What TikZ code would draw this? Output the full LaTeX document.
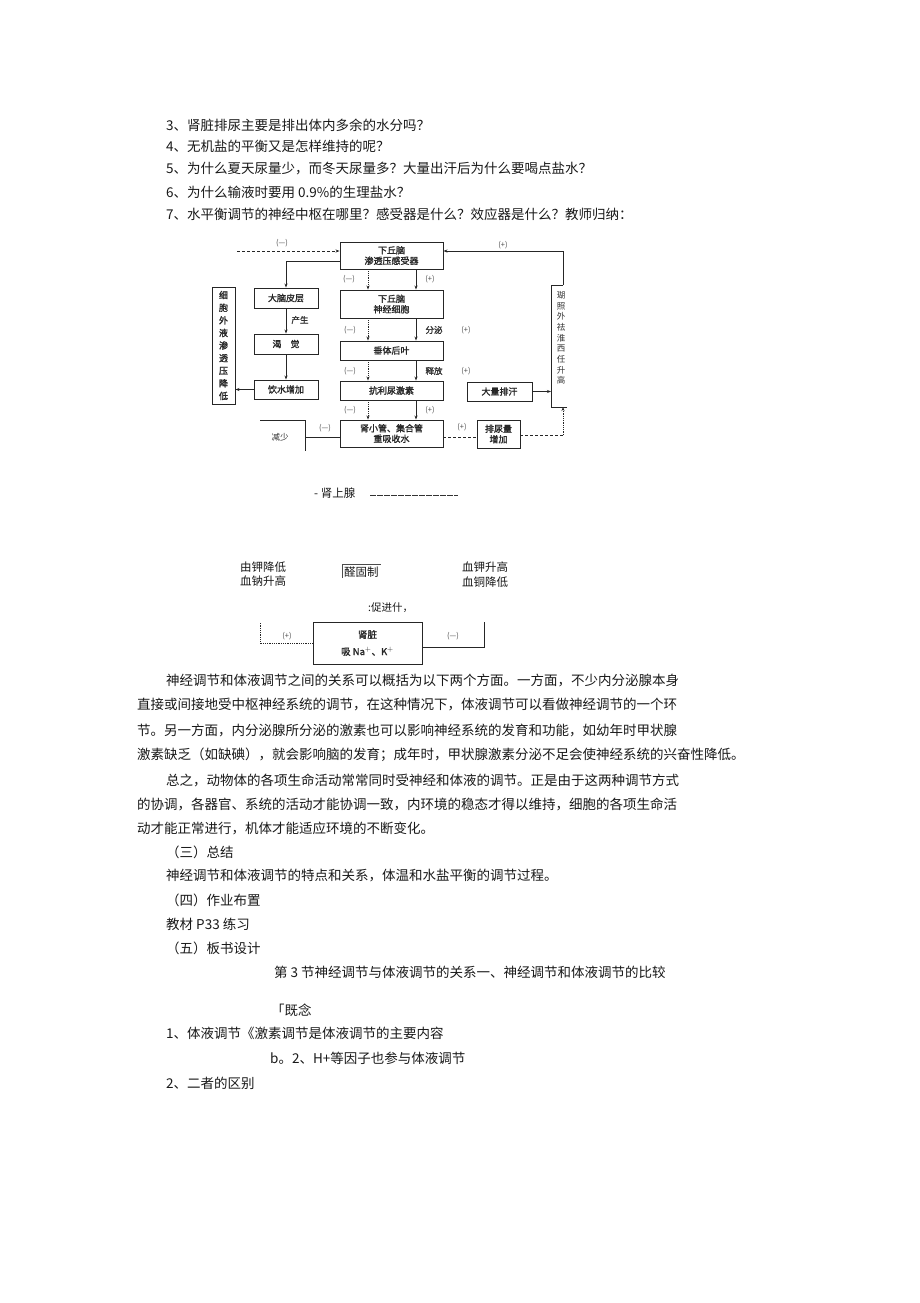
\documentclass[tikz,border=0pt]{standalone}
\usepackage{fontspec}
\setmainfont{Noto Sans CJK SC}
\newfontfamily\boxfont{Noto Sans CJK SC}[FakeBold=1.6]
\usetikzlibrary{arrows.meta}
\begin{document}
\begin{tikzpicture}[x=1pt,y=-1pt,
  box/.style={draw=black!85, line width=0.9pt, inner sep=0pt, align=center, font=\boxfont\fontsize{9}{10.5}\selectfont, text=black!85},
  txt/.style={anchor=west, inner sep=0pt, font=\fontsize{13.5}{15}\selectfont, text=black!90},
  mid/.style={anchor=west, inner sep=0pt, font=\fontsize{11.5}{13}\selectfont, text=black!90},
  sgn/.style={inner sep=0pt, font=\fontsize{7.5}{8}\selectfont, text=black!70},
  lab/.style={inner sep=0pt, font=\boxfont\fontsize{8.5}{9}\selectfont, text=black!80},
  ln/.style={line width=0.8pt, draw=black!85},
  arr/.style={ln, -{Stealth[length=4pt,width=3pt]}},
  dot/.style={ln, densely dotted},
  dotarr/.style={dot, -{Stealth[length=4pt,width=3pt]}},
  dsh/.style={ln, dash pattern=on 3pt off 2pt},
]
\useasboundingbox (0,0) rectangle (920,1303);
\fill[white] (0,0) rectangle (920,1303);

% ---------- questions ----------
\node[txt] (q3) at (166,125) {3、肾脏排尿主要是排出体内多余的水分吗？};
\node[txt] (q4) at (166,146) {4、无机盐的平衡又是怎样维持的呢？};
\node[txt] (q5) at (166,169) {5、为什么夏天尿量少，而冬天尿量多？大量出汗后为什么要喝点盐水？};
\node[txt] (q6) at (166,192) {6、为什么输液时要用 0.9\%的生理盐水？};
\node[txt] (q7) at (166,214) {7、水平衡调节的神经中枢在哪里？感受器是什么？效应器是什么？教师归纳：};

% ---------- diagram boxes ----------
\node[box, minimum width=103pt, minimum height=27pt] (hyp1) at (391.5,255.5) {下丘脑\\渗透压感受器};
\node[box, minimum width=64pt, minimum height=20pt] (cortex) at (286,298) {大脑皮层};
\node[box, minimum width=103pt, minimum height=28pt] (hyp2) at (391.5,304) {下丘脑\\神经细胞};
\node[box, minimum width=23pt, minimum height=117pt, font=\boxfont\fontsize{9}{12.6}\selectfont] (lbox) at (223.5,345.5) {细\\胞\\外\\液\\渗\\透\\压\\降\\低};
\node[box, minimum width=64pt, minimum height=20pt] (thirst) at (286,344) {渴\quad 觉};
\node[box, minimum width=103pt, minimum height=19pt] (pit) at (391.5,350.5) {垂体后叶};
\node[box, minimum width=64pt, minimum height=19pt] (drink) at (286,389.5) {饮水增加};
\node[box, minimum width=103pt, minimum height=19pt] (adh) at (391.5,390.5) {抗利尿激素};
\node[box, minimum width=65pt, minimum height=19pt] (sweat) at (499.5,391.5) {大量排汗};
\node[box, minimum width=103pt, minimum height=27pt] (tube) at (391.5,433.5) {肾小管、集合管\\重吸收水};
\node[box, minimum width=43pt, minimum height=28pt] (urine) at (498.5,434) {排尿量\\增加};
\node[inner sep=0pt, align=center, font=\fontsize{8.5}{10.7}\selectfont, text=black!80] (rtext) at (561,338) {瑚\\照\\外\\祛\\淮\\西\\任\\升\\高};

% helper coordinates
\coordinate (xs) at (416,0);
\coordinate (xd) at (368,0);
\coordinate (tl) at (237,251);
\coordinate (c1) at (0,261);
\coordinate (rb1) at (567,407);
\coordinate (rb2) at (551,407);
\coordinate (rb3) at (551,285);
\coordinate (rb4) at (563,285);
\coordinate (rb5) at (563,251);
\coordinate (ub) at (563,435);
\coordinate (y437) at (0,437);
\coordinate (jA) at (260,420);
\coordinate (jB) at (305,420);
\coordinate (jC) at (305,451);

% ---------- diagram connectors ----------
\draw[dsh, -{Stealth[length=4pt,width=3pt]}] (tl) -- (hyp1.west |- tl);
\node[sgn] (s1) at (282,243) {(—)};
\draw[arr] (hyp1.west |- c1) -| (cortex.north);

\draw[arr] (hyp1.south -| xs) -- (hyp2.north -| xs);
\draw[dotarr] (hyp1.south -| xd) -- (hyp2.north -| xd);
\node[sgn] (s2) at (349,279) {(—)};
\node[sgn] (s3) at (430,279) {(+)};

\draw[arr] (hyp2.south -| xs) -- (pit.north -| xs);
\draw[dotarr] (hyp2.south -| xd) -- (pit.north -| xd);
\node[sgn] (s4) at (350,330) {(—)};
\node[lab] (l1) at (434,330) {分泌};
\node[sgn] (s5) at (466,330) {(+)};

\draw[arr] (pit.south -| xs) -- (adh.north -| xs);
\draw[dotarr] (pit.south -| xd) -- (adh.north -| xd);
\node[sgn] (s6) at (350,371) {(—)};
\node[lab] (l2) at (434,371) {释放};
\node[sgn] (s7) at (466,371) {(+)};

\draw[arr] (adh.south -| xs) -- (tube.north -| xs);
\draw[dotarr] (adh.south -| xd) -- (tube.north -| xd);
\node[sgn] (s8) at (350,410) {(—)};
\node[sgn] (s9) at (430,410) {(+)};

\draw[arr] (cortex.south) -- (thirst.north);
\node[lab] (l3) at (300,320) {产生};
\draw[arr] (thirst.south) -- (drink.north);
\draw[arr] (drink.west) -- (lbox.east |- drink.west);

\draw[arr] (sweat.east) -- (rb2 |- sweat.east);
\draw[line width=0.9pt, draw=black!85] (rb1) -- (rb2) -- (rb3) -- (rb4);
\draw[arr] (rb4) -- (rb5) -- (hyp1.east |- rb5);
\node[sgn] (s10) at (503,245) {(+)};

\draw[dsh] (tube.east |- y437) -- (urine.west |- y437);
\node[sgn] (s11) at (462,427) {(+)};
\draw[dsh] (urine.east |- ub) -- (ub);
\draw[dotarr] (ub) -- (rb4 |- rb1);

\draw[ln] (jA) -- (jB) -- (jC);
\draw[ln] (jB |- y437) -- (tube.west |- y437);
\node[sgn] (s12) at (325,428) {(—)};
\node[inner sep=0pt, font=\fontsize{8.5}{9}\selectfont, text=black!80] (l4) at (280,437) {减少};

% ---------- lower diagram ----------
\node[mid] (adrenal) at (314,495) {\strut -\ 肾上腺};
\coordinate (da) at (370,495);
\coordinate (db) at (458,495);
\draw[line width=0.6pt, draw=black!80, dash pattern=on 6pt off 1pt] (da) -- (db);

\node[mid] (t1) at (240,567) {由钾降低};
\node[mid] (t2) at (240,581) {血钠升高};
\node[mid] (t3) at (344,572) {醛固制};
\coordinate (ov1) at (342,578);
\coordinate (ov2) at (342,564);
\coordinate (ov3) at (381,564);
\draw[line width=0.5pt, draw=black!70] (ov1) -- (ov2) -- (ov3);
\node[mid] (t4) at (462,567) {血钾升高};
\node[mid] (t5) at (462,582) {血铜降低};
\node[mid, font=\fontsize{10.5}{12}\selectfont] (t6) at (368,608) {:促进什，};

\node[box, minimum width=109pt, minimum height=42pt, font=\boxfont\fontsize{9.5}{17}\selectfont] (kid) at (367.5,643) {肾脏\\吸 Na$^{+}$、K$^{+}$};
\coordinate (kl) at (260,622);
\coordinate (kr) at (484,622);
\coordinate (y647) at (0,647);
\draw[dot] (kid.west) -- (kl |- kid.west) -- (kl);
\node[sgn] (s13) at (287,636) {(+)};
\draw[ln] (kid.east |- y647) -- (kr |- y647) -- (kr);
\node[sgn] (s14) at (453,636) {(—)};

% ---------- paragraphs ----------
\node[txt] (p1) at (166,681) {神经调节和体液调节之间的关系可以概括为以下两个方面。一方面，不少内分泌腺本身};
\node[txt] (p2) at (137,705) {直接或间接地受中枢神经系统的调节，在这种情况下，体液调节可以看做神经调节的一个环};
\node[txt] (p3) at (137,730) {节。另一方面，内分泌腺所分泌的激素也可以影响神经系统的发育和功能，如幼年时甲状腺};
\node[txt] (p4) at (137,755) {激素缺乏（如缺碘），就会影响脑的发育；成年时，甲状腺激素分泌不足会使神经系统的兴奋性降低。};
\node[txt] (p5) at (166,780) {总之，动物体的各项生命活动常常同时受神经和体液的调节。正是由于这两种调节方式};
\node[txt] (p6) at (137,804) {的协调，各器官、系统的活动才能协调一致，内环境的稳态才得以维持，细胞的各项生命活};
\node[txt] (p7) at (137,828) {动才能正常进行，机体才能适应环境的不断变化。};
\node[txt] (p8) at (166,852) {（三）总结};
\node[txt] (p9) at (166,876) {神经调节和体液调节的特点和关系，体温和水盐平衡的调节过程。};
\node[txt] (p10) at (166,900) {（四）作业布置};
\node[txt] (p11) at (166,924) {教材 P33 练习};
\node[txt] (p12) at (166,948) {（五）板书设计};
\node[txt] (p13) at (274,972) {第 3 节神经调节与体液调节的关系一、神经调节和体液调节的比较};
\node[txt] (p14) at (271,1010) {「既念};
\node[txt] (p15) at (166,1033) {1、体液调节《激素调节是体液调节的主要内容};
\node[txt] (p16) at (270,1058) {b。2、H+等因子也参与体液调节};
\node[txt] (p17) at (166,1083) {2、二者的区别};
\end{tikzpicture}
\end{document}
